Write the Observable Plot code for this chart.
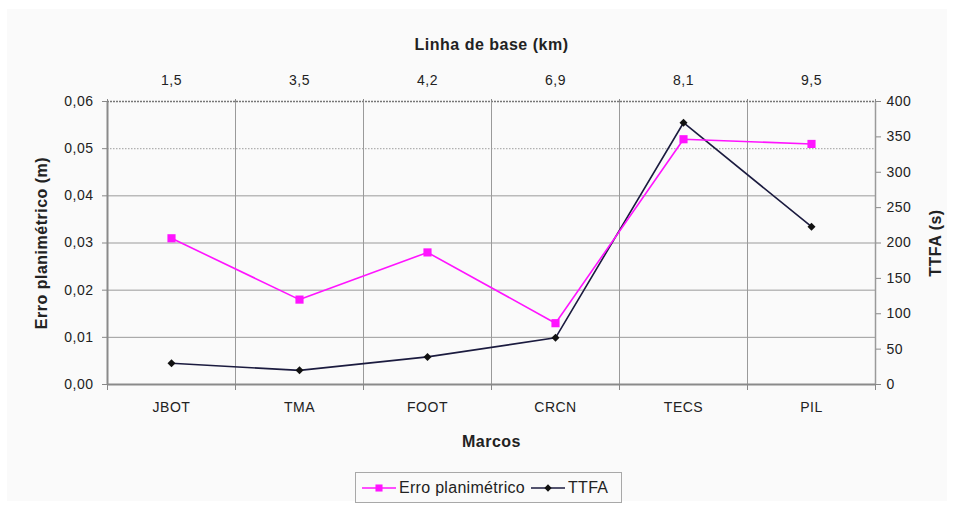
<!DOCTYPE html>
<html>
<head>
<meta charset="utf-8">
<script src="https://cdn.jsdelivr.net/npm/d3@7"></script>
<script src="https://cdn.jsdelivr.net/npm/@observablehq/plot@0.6"></script>
<style>
  html, body { margin: 0; padding: 0; background: #ffffff; }
  #wrap { position: absolute; left: 7px; top: 9px; width: 940px; height: 492px; background: #fafafa; font-family: "Liberation Sans", Arial, sans-serif; }
  #chart svg { display: block; background: #fafafa; letter-spacing: 0.5px; }
  g[aria-label="x-axis label"] text, g[aria-label="y-axis label"] text { font-weight: bold; font-size: 16px; letter-spacing: 0.5px; }
  #legend { position: absolute; left: 348px; top: 463px; width: 265px; height: 29px; border: 1px solid #a8a8a8; background: #fafafa;
    display: flex; align-items: center; font-size: 16px; letter-spacing: 0.3px; color: #222; }
  #legend .item { display: flex; align-items: center; margin-left: 6px; }
  #legend svg { display: block; margin-right: 3px; }
</style>
</head>
<body>
<div id="wrap">
  <div id="chart"></div>
  <div id="legend"></div>
</div>
<script>
// ---- data ----
const categories = ["JBOT", "TMA", "FOOT", "CRCN", "TECS", "PIL"];
const baseline = ["1,5", "3,5", "4,2", "6,9", "8,1", "9,5"];
const erro = [0.031, 0.018, 0.028, 0.013, 0.052, 0.051];
const ttfa = [30, 20, 39, 66, 370, 223];
const leftTicks = [0, 0.01, 0.02, 0.03, 0.04, 0.05, 0.06];
const rightTicks = [0, 50, 100, 150, 200, 250, 300, 350, 400];

const k = 0.06 / 400; // TTFA -> left scale
const rows = categories.map((c, i) => ({c, i, erro: erro[i], ttfa: ttfa[i]}));
const centers = categories.map((c, i) => i + 0.5);
const bounds = d3.range(categories.length + 1);
const magenta = "#ff14ff";
const navy = "#1b1b3f";

const chart = Plot.plot({
  width: 940,
  height: 450,
  marginLeft: 100,
  marginRight: 72,
  marginTop: 92,
  marginBottom: 75,
  style: {fontFamily: "'Liberation Sans', Arial, sans-serif", fontSize: "14px", color: "#222", background: "#fafafa"},
  x: {domain: [0, categories.length], axis: null},
  y: {domain: [0, 0.06], axis: null},
  marks: [
    Plot.ruleY(leftTicks.filter(v => v > 0 && v < 0.05), {stroke: "#9a9a9a", strokeWidth: 1}),
    Plot.ruleY([0.05], {stroke: "#b0b0b0", strokeWidth: 1.2, strokeDasharray: "1.5,1.5"}),
    Plot.ruleY([0.06], {stroke: "#777", strokeWidth: 1.4, strokeDasharray: "2,1"}),
    Plot.ruleX(bounds.slice(1, -1), {stroke: "#9a9a9a", strokeWidth: 1}),
    Plot.ruleX([0], {stroke: "#8a8a8a", strokeWidth: 2}),
    Plot.ruleX([categories.length], {stroke: "#9a9a9a", strokeWidth: 1.5}),
    Plot.ruleY([0], {stroke: "#8a8a8a", strokeWidth: 2}),
    Plot.axisY(leftTicks, {anchor: "left", tickSize: 5, tickPadding: 9, stroke: "#888",
      tickFormat: v => v.toFixed(2).replace(".", ","),
      label: "Erro planimétrico (m)", labelAnchor: "center", labelOffset: 72, labelArrow: "none"}),
    Plot.axisY(rightTicks.map(v => v * k), {anchor: "right", tickSize: 5, tickPadding: 6, stroke: "#888",
      tickFormat: v => String(Math.round(v / k)),
      label: "TTFA (s)", labelAnchor: "center", labelOffset: 65, labelArrow: "none"}),
    Plot.axisX(bounds, {anchor: "bottom", tickSize: 6, stroke: "#888", tickFormat: () => "", label: null}),
    Plot.axisX(centers, {anchor: "bottom", tickSize: 0, tickPadding: 18,
      tickFormat: v => categories[Math.floor(v)],
      label: "Marcos", labelAnchor: "center", labelOffset: 62, labelArrow: "none"}),
    Plot.axisX(bounds, {anchor: "top", tickSize: 3, stroke: "#888", tickFormat: () => "", label: null}),
    Plot.axisX(centers, {anchor: "top", tickSize: 0, tickPadding: 17,
      tickFormat: v => baseline[Math.floor(v)],
      label: "Linha de base (km)", labelAnchor: "center", labelOffset: 63, labelArrow: "none"}),
    Plot.line(rows, {x: d => d.i + 0.5, y: d => d.ttfa * k, stroke: navy, strokeWidth: 1.6}),
    Plot.dot(rows, {x: d => d.i + 0.5, y: d => d.ttfa * k, symbol: "diamond2", r: 3.6, fill: "#111", stroke: "none"}),
    Plot.line(rows, {x: d => d.i + 0.5, y: "erro", stroke: magenta, strokeWidth: 1.6}),
    Plot.dot(rows, {x: d => d.i + 0.5, y: "erro", symbol: "square", r: 4.6, fill: magenta, stroke: "none"})
  ]
});
document.getElementById("chart").append(chart);

// ---- legend ----
const legendItems = [
  {label: "Erro planimétrico", color: magenta, symbol: d3.symbolSquare, size: 50, fill: magenta},
  {label: "TTFA", color: navy, symbol: d3.symbolDiamond2, size: 34, fill: "#111"}
];
const legend = d3.select("#legend");
for (const it of legendItems) {
  const item = legend.append("div").attr("class", "item");
  const s = item.append("svg").attr("width", 34).attr("height", 14);
  s.append("line").attr("x1", 0).attr("x2", 34).attr("y1", 7).attr("y2", 7).attr("stroke", it.color).attr("stroke-width", 1.6);
  s.append("path").attr("d", d3.symbol(it.symbol, it.size)()).attr("transform", "translate(17,7)").attr("fill", it.fill);
  item.append("span").text(it.label);
}
</script>
</body>
</html>
